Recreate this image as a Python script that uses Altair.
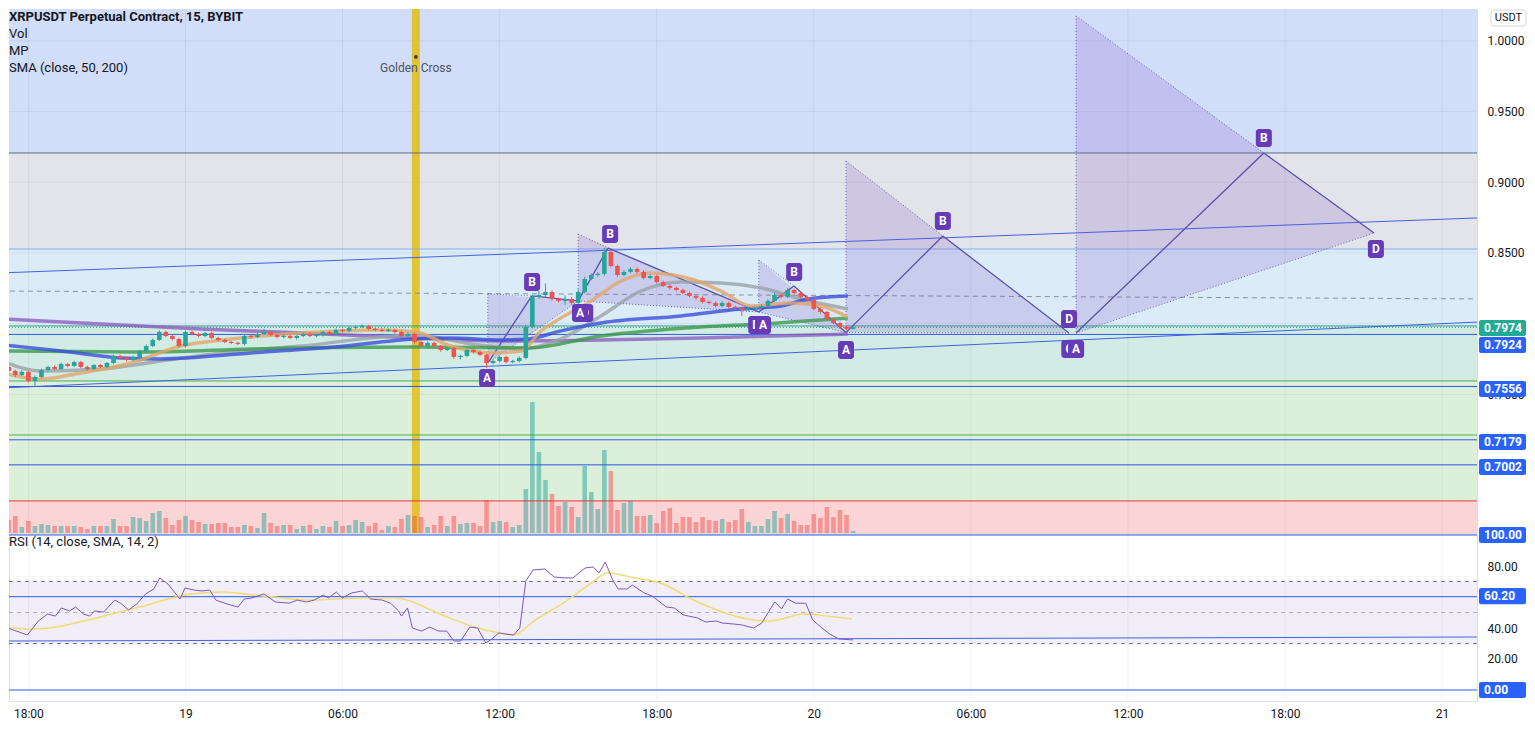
import altair as alt
import pandas as pd

# ---------------- time axis: hours after 18:00 on the 18th ----------------
tick_hours = [0, 6, 12, 18, 24, 30, 36, 42, 48, 54]
tick_labels = ["18:00", "19", "06:00", "12:00", "18:00", "20", "06:00", "12:00", "18:00", "21"]

# ---------------- 15-minute candles ----------------
first_bar_hour = -1.0
bar_hours = 0.25
first_open = 0.7609
closes = [
    0.7694, 0.7666, 0.7637, 0.7659, 0.7595, 0.7623, 0.7673, 0.7694, 0.7680, 0.7715,
    0.7701, 0.7729, 0.7694, 0.7680, 0.7708, 0.7694, 0.7722, 0.7772, 0.7758, 0.7744,
    0.7765, 0.7807, 0.7842, 0.7885, 0.7941, 0.7913, 0.7892, 0.7842, 0.7941, 0.7927,
    0.7913, 0.7934, 0.7899, 0.7885, 0.7871, 0.7864, 0.7857, 0.7913, 0.7906, 0.7927,
    0.7941, 0.7920, 0.7906, 0.7913, 0.7899, 0.7913, 0.7927, 0.7913, 0.7920, 0.7941,
    0.7927, 0.7956, 0.7949, 0.7970, 0.7977, 0.7984, 0.7963, 0.7956, 0.7949, 0.7956,
    0.7941, 0.7913, 0.7927, 0.7871, 0.7842, 0.7864, 0.7842, 0.7814, 0.7828, 0.7765,
    0.7772, 0.7814, 0.7800, 0.7779, 0.7722, 0.7736, 0.7765, 0.7729, 0.7736, 0.7758,
    0.7977, 0.8189, 0.8203, 0.8224, 0.8175, 0.8161, 0.8175, 0.8147, 0.8224, 0.8316,
    0.8344, 0.8352, 0.8507, 0.8408, 0.8344, 0.8366, 0.8387, 0.8366, 0.8323, 0.8337,
    0.8295, 0.8267, 0.8253, 0.8238, 0.8217, 0.8196, 0.8182, 0.8154, 0.8147, 0.8125,
    0.8147, 0.8118, 0.8111, 0.8097, 0.8104, 0.8111, 0.8125, 0.8161, 0.8203, 0.8189,
    0.8238, 0.8217, 0.8189, 0.8168, 0.8104, 0.8083, 0.8033, 0.8005, 0.7977, 0.7963,
    0.7974,
]
# wick lengths above / below the body, in ticks of 0.0001
hi_wick = [
    10, 8, 9, 12, 8, 10, 9, 8, 10, 9,
    8, 9, 7, 9, 8, 9, 8, 10, 9, 8,
    9, 8, 10, 9, 12, 9, 8, 9, 10, 8,
    9, 8, 9, 8, 7, 8, 9, 10, 8, 9,
    22, 8, 9, 8, 9, 8, 9, 10, 8, 9,
    9, 10, 8, 9, 8, 12, 9, 8, 9, 10,
    8, 9, 12, 9, 8, 9, 10, 8, 9, 8,
    9, 8, 10, 9, 8, 10, 9, 8, 9, 10,
    12, 14, 30, 60, 12, 10, 25, 12, 18, 15,
    12, 14, 28, 12, 10, 14, 12, 10, 12, 11,
    10, 9, 10, 9, 10, 9, 10, 11, 9, 10,
    12, 9, 10, 9, 10, 11, 12, 13, 15, 12,
    14, 10, 11, 9, 12, 10, 9, 8, 10, 9,
    5,
]
lo_wick = [
    12, 10, 14, 9, 12, 36, 9, 10, 12, 9,
    10, 8, 9, 12, 9, 10, 8, 9, 10, 12,
    9, 8, 10, 9, 8, 9, 10, 12, 9, 8,
    10, 9, 8, 10, 9, 8, 9, 10, 12, 9,
    8, 9, 10, 9, 8, 12, 9, 8, 9, 10,
    9, 8, 10, 9, 8, 9, 10, 8, 9, 8,
    10, 9, 8, 12, 9, 10, 9, 12, 8, 14,
    18, 9, 10, 9, 35, 10, 9, 12, 9, 10,
    9, 10, 12, 14, 12, 10, 28, 12, 9, 10,
    8, 10, 12, 10, 14, 9, 10, 12, 10, 9,
    10, 9, 12, 10, 9, 10, 12, 11, 10, 9,
    10, 12, 14, 42, 10, 9, 10, 8, 9, 10,
    9, 10, 12, 11, 10, 12, 10, 9, 14, 10,
    4,
]
volume = [
    15, 13, 17, 6, 12, 7, 9, 8, 7, 7,
    7, 7, 6, 4, 7, 7, 7, 14, 7, 7,
    16, 15, 12, 20, 22, 15, 8, 13, 17, 13,
    11, 9, 9, 10, 10, 6, 6, 8, 7, 5,
    20, 10, 7, 8, 8, 4, 7, 8, 4, 7,
    6, 12, 7, 8, 13, 11, 7, 10, 3, 7,
    6, 14, 18, 17, 16, 6, 8, 17, 7, 17,
    9, 10, 10, 7, 33, 11, 12, 11, 6, 8,
    44, 131, 81, 53, 39, 27, 31, 26, 16, 67,
    41, 24, 83, 62, 23, 30, 32, 17, 17, 18,
    10, 22, 25, 10, 16, 16, 11, 16, 13, 12,
    14, 11, 13, 24, 11, 7, 7, 14, 22, 15,
    19, 12, 8, 8, 19, 15, 26, 16, 23, 18,
    2,
]

# ---------------- moving averages (hour, price) ----------------
ma_purple_t = [-1.0, 2.77, 6.59, 10.41, 14.80, 18.05, 21.87, 25.69, 31.3]
ma_purple_p = [0.8033, 0.7998, 0.7963, 0.7934, 0.7899, 0.7878, 0.7885, 0.7899, 0.7927]
ma_gray_t = [-1.0, 0.48, 2.77, 5.06, 7.36, 10.41, 14.80, 16.91, 18.82, 20.34, 21.87, 23.40, 24.93, 26.45, 27.98, 29.51, 31.3]
ma_gray_p = [0.7736, 0.7666, 0.7680, 0.7736, 0.7793, 0.7842, 0.7920, 0.7857, 0.7821, 0.7892, 0.8055, 0.8231, 0.8295, 0.8288, 0.8253, 0.8175, 0.8104]
ma_green_t = [-1.0, 4.68, 8.50, 14.80, 19.08, 21.87, 25.69, 27.98, 31.3]
ma_green_p = [0.7807, 0.7800, 0.7821, 0.7835, 0.7828, 0.7913, 0.7977, 0.7998, 0.8040]
ma_blue_t = [-1.0, 1.25, 3.54, 5.06, 8.50, 11.67, 14.80, 16.14, 18.05, 19.08, 20.34, 21.87, 24.93, 27.21, 28.75, 29.78, 31.3]
ma_blue_p = [0.7850, 0.7807, 0.7758, 0.7751, 0.7793, 0.7835, 0.7892, 0.7899, 0.7885, 0.7892, 0.7949, 0.8005, 0.8055, 0.8104, 0.8125, 0.8175, 0.8196]
ma_orange_t = [-1.0, 0.48, 2.01, 3.92, 5.83, 7.74, 10.41, 13.47, 14.80, 16.14, 17.67, 18.82, 19.58, 20.34, 21.49, 22.64, 23.78, 25.31, 26.45, 27.6, 29.13, 30.27, 31.3]
ma_orange_p = [0.7652, 0.7609, 0.7652, 0.7722, 0.7842, 0.7892, 0.7934, 0.7956, 0.7941, 0.7842, 0.7793, 0.7807, 0.7949, 0.8040, 0.8161, 0.8302, 0.8359, 0.8316, 0.8231, 0.8125, 0.8147, 0.8125, 0.8048]

# ---------------- price levels / zones ----------------
price_ticks = [0.70, 0.75, 0.80, 0.85, 0.90, 0.95, 1.00]
axis_price_labels = [0.75, 0.85, 0.90, 0.95, 1.00]
zone_top = [1.0225, 0.9207, 0.8528, 0.7984, 0.7595, 0.6747]
zone_bottom = [0.9207, 0.8528, 0.7984, 0.7595, 0.6747, 0.6520]
level_dark = [0.9207]
level_light = [0.8528]
level_teal = [0.7984]
level_last = [0.7974]
level_blue = [0.7924, 0.7556, 0.7179, 0.7002]
level_green = [0.7595, 0.7213]
level_red = [0.6747]
line_t = [-1.05, 55.41]
upper_trend = [0.8359, 0.8748]
lower_trend = [0.7545, 0.8012]
mid_dashed = [0.8231, 0.8175]

last_badge_text = ["0.7974"]
last_badge_pos = [0.7970]
level_badge_text = ["0.7924", "0.7556", "0.7179", "0.7002"]
level_badge_pos = [0.7850, 0.7538, 0.7164, 0.6987]

golden_cross_hour = 14.8
golden_text_price = 0.9808
golden_dot_price = 0.9886

# ---------------- drawn patterns ----------------
pat_T_t = [17.55, 21.0, 27.9, 31.23, 40.02]
pat_T_p = [0.8210, 0.8634, 0.8450, 0.9150, 1.0176]
pat_A_p = [0.7722, 0.8161, 0.8083, 0.7937, 0.7934]
pat_B_t = [19.23, 22.14, 29.24, 34.93, 47.19]
pat_B_p = [0.8196, 0.8535, 0.8267, 0.8620, 0.9207]
pat_D_t = [21.0, 27.9, 31.23, 39.75, 51.4]
pat_D_p = [0.8161, 0.8083, 0.7937, 0.7934, 0.8641]
back_label_text = ["D", "D", "C"]
back_label_t = [21.27, 27.8, 39.76]
back_label_p = [0.8076, 0.7991, 0.7821]
label_text = ["A", "B", "A", "B", "A", "B", "A", "B", "D", "A", "B", "D"]
label_t = [17.52, 19.24, 21.07, 22.22, 28.06, 29.25, 31.23, 34.93, 39.75, 40.02, 47.19, 51.47]
label_p = [0.7616, 0.8295, 0.8076, 0.8634, 0.7991, 0.8366, 0.7814, 0.8726, 0.8033, 0.7821, 0.9313, 0.8528]

# ---------------- RSI ----------------
rsi_t = [-1.0, -0.69, -0.04, 0.38, 0.73, 1.03, 1.26, 1.57, 1.80, 2.11, 2.34, 2.53, 2.87, 3.30, 3.52, 3.83, 4.14, 4.48, 4.79, 5.02,
         5.33, 5.79, 5.98, 6.32, 6.63, 6.93, 7.16, 7.59, 8.01, 8.24, 8.54, 9.00, 9.43, 9.96, 10.27, 10.61, 10.92, 11.26, 11.46, 11.76,
         11.99, 12.34, 12.76, 13.07, 13.52, 13.83, 14.14, 14.25, 14.48, 14.67, 15.02, 15.33, 15.67, 15.98, 16.25, 16.51, 16.86, 17.16, 17.47, 17.70,
         17.97, 18.24, 18.54, 18.77, 19.00, 19.27, 19.73, 20.08, 20.50, 20.80, 21.26, 21.57, 21.80, 22.03, 22.34, 22.53, 22.87, 23.07, 23.52, 23.83,
         24.37, 24.67, 25.02, 25.56, 25.86, 26.28, 26.51, 26.93, 27.28, 27.70, 28.01, 28.51, 28.77, 29.00, 29.31, 29.69, 29.96, 30.27, 30.61, 30.96, 31.5]
rsi_v = [40.2, 39.4, 35.5, 44.5, 49.0, 47.7, 52.9, 51.0, 53.5, 49.0, 47.7, 51.0, 50.3, 58.0, 56.0, 51.6, 55.5, 62.0, 65.2, 72.3,
         68.4, 58.7, 65.8, 64.5, 63.9, 64.5, 58.0, 55.5, 53.5, 58.7, 59.4, 62.0, 56.8, 56.0, 58.0, 56.8, 58.0, 61.3, 59.4, 63.2,
         59.4, 62.6, 63.9, 58.7, 58.0, 56.0, 51.0, 47.7, 52.9, 40.0, 38.0, 40.6, 38.0, 38.0, 31.6, 31.6, 40.6, 40.0, 30.3, 32.9,
         36.8, 36.1, 35.5, 40.0, 70.3, 77.4, 78.1, 72.9, 72.3, 72.3, 78.7, 79.4, 75.5, 82.6, 70.3, 65.2, 65.2, 67.7, 62.6, 60.6,
         53.5, 52.9, 48.4, 46.5, 43.9, 44.5, 43.2, 42.6, 41.9, 40.0, 43.2, 56.8, 52.3, 58.7, 56.0, 56.0, 45.2, 40.6, 36.1, 32.9, 32.3]
rsi_ma_t = [-1.0, -0.04, 0.80, 2.11, 3.18, 4.25, 5.33, 6.21, 7.47, 8.58, 9.66, 10.73, 11.80, 12.87, 13.95, 14.60, 15.21, 16.09,
            17.16, 18.01, 18.54, 19.31, 20.38, 21.46, 22.11, 23.18, 24.25, 25.33, 26.40, 27.47, 28.35, 29.62, 30.50, 31.46]
rsi_ma_v = [40.6, 39.4, 40.0, 44.5, 49.0, 53.5, 58.7, 62.0, 63.2, 61.3, 59.4, 58.0, 58.7, 59.4, 59.4, 57.4, 52.9, 46.5,
            40.0, 36.8, 35.5, 44.5, 55.5, 68.4, 75.5, 72.3, 68.4, 58.7, 51.0, 45.8, 44.5, 49.0, 47.7, 45.8]
rsi_dashed = [70, 30]
rsi_mid = [50]
rsi_blue = [100, 60.2, 0]
rsi_trend = [31.6, 34.2]
rsi_axis_labels = [20, 40, 80]
rsi_badge_text = ["100.00", "60.20", "0.00"]
rsi_badge_pos = [100, 60.6, 0]

title_lines = ["XRPUSDT Perpetual Contract, 15, BYBIT", "Vol", "MP", "SMA (close, 50, 200)"]

# ======================= layout =======================
W, H1, H2 = 1468, 524, 167
PXH = 26.18                     # pixels per hour
x_lo = -0.741
x_dom = [x_lo, x_lo + W / PXH]
PPX = 0.000707                  # price per pixel
price_dom = [0.6520, 1.0225]
rsi_dom = [-7.1, 100.65]
FONT = "Roboto"
TXT = "#131722"

xs = alt.Scale(domain=x_dom, nice=False, zero=False)
ys = alt.Scale(domain=price_dom, nice=False, zero=False)
rs = alt.Scale(domain=rsi_dom, nice=False, zero=False)

price_axis = alt.Axis(orient="right", values=axis_price_labels, format=".4f", title=None, domain=False,
                      ticks=False, grid=False, labelPadding=10, labelFontSize=12, labelColor=TXT, labelFont=FONT)
rsi_axis = alt.Axis(orient="right", values=rsi_axis_labels, format=".2f", title=None, domain=False,
                    ticks=False, grid=False, labelPadding=10, labelFontSize=12, labelColor=TXT, labelFont=FONT)
label_expr = "".join(f"datum.value == {h} ? '{lab}' : " for h, lab in zip(tick_hours, tick_labels)) + "''"
time_axis = alt.Axis(values=tick_hours, labelExpr=label_expr, title=None, grid=False, ticks=False, domain=True,
                     domainColor="#e0e3eb", labelPadding=7, labelFontSize=12, labelColor=TXT, labelFont=FONT,
                     labelFlush=False, labelOverlap=False)


def PX(f):
    return alt.X(f + ":Q", scale=xs, axis=None)


def PY(f):
    return alt.Y(f + ":Q", scale=ys, axis=price_axis)


def BY(f):
    return alt.Y(f + ":Q", scale=ys, axis=None)


def RX(f):
    return alt.X(f + ":Q", scale=xs, axis=time_axis)


def RY(f):
    return alt.Y(f + ":Q", scale=rs, axis=rsi_axis)


# ---------- candle table ----------
opens = [first_open] + closes[:-1]
rows = []
for i, c in enumerate(closes):
    o = opens[i]
    lo_b, hi_b = min(o, c), max(o, c)
    if hi_b - lo_b < 0.0008:
        mid = (hi_b + lo_b) / 2
        lo_b, hi_b = mid - 0.0004, mid + 0.0004
    rows.append(dict(t=first_bar_hour + bar_hours * i, bo=lo_b, bc=hi_b,
                     h=max(o, c) + hi_wick[i] / 10000, l=min(o, c) - lo_wick[i] / 10000,
                     vol=volume[i], dir="up" if c >= o else "down"))
candles = pd.DataFrame(rows)
dir_color = alt.Color("dir:N", scale=alt.Scale(domain=["up", "down"], range=["#26a69a", "#ef5350"]), legend=None)
half_body = 2.3 / PXH

# ---------- background group ----------
zone_colors = ["#d1ddf9", "#e3e4e9", "#dcebf8", "#d3ebe5", "#dcefdb", "#fbd5d6"]
bg_layers = []
for top, bot, col in zip(zone_top, zone_bottom, zone_colors):
    bg_layers.append(alt.Chart(pd.DataFrame({"top": [top], "bot": [bot]})).mark_rect(color=col).encode(
        x=alt.value(0), x2=alt.value(W), y=BY("top"), y2="bot:Q"))
vgrid = alt.Chart(pd.DataFrame({"t": tick_hours})).mark_rule(color="#000000", opacity=0.05).encode(x=PX("t"))
hgrid = alt.Chart(pd.DataFrame({"p": price_ticks})).mark_rule(color="#000000", opacity=0.05).encode(y=BY("p"))
gold = alt.Chart(pd.DataFrame({"t": [golden_cross_hour]})).transform_calculate(
    t0="datum.t - 0.15", t1="datum.t + 0.15").mark_rect(color="#e2c229", opacity=0.95).encode(
    x=PX("t0"), x2="t1:Q", y=alt.value(0), y2=alt.value(H1))
bg_group = alt.layer(*bg_layers, vgrid, hgrid, gold)

# ---------- volume ----------
vol_layer = alt.Chart(candles).transform_calculate(
    x0=f"datum.t - {half_body}", x1=f"datum.t + {half_body}").mark_rect(opacity=0.5, clip=True).encode(
    x=PX("x0"), x2="x1:Q", y=alt.Y("vol:Q", scale=alt.Scale(domain=[0, H1], nice=False), axis=None),
    y2=alt.datum(0), color=dir_color)


# ---------- top group ----------
def hlines(vals, color, dash=None, width=1.0, opacity=1.0):
    kw = dict(color=color, strokeWidth=width, opacity=opacity)
    if dash:
        kw["strokeDash"] = dash
    return alt.Chart(pd.DataFrame({"p": vals})).mark_rule(**kw).encode(y=PY("p"))


def seg(p_pair, color, dash=None, width=1.0):
    kw = dict(color=color, strokeWidth=width, clip=True)
    if dash:
        kw["strokeDash"] = dash
    df = pd.DataFrame({"t0": [line_t[0]], "t1": [line_t[1]], "p0": [p_pair[0]], "p1": [p_pair[1]]})
    return alt.Chart(df).mark_rule(**kw).encode(x=PX("t0"), x2="t1:Q", y=PY("p0"), y2="p1:Q")


levels = [
    hlines(level_dark, "#5d6b89"),
    hlines(level_light, "#7fb0ee"),
    seg(mid_dashed, "#8b919c", dash=[5, 4]),
    hlines(level_teal, "#3b9b88"),
    hlines(level_last, "#26a69a", dash=[1, 2]),
    hlines(level_blue, "#2f5ce8"),
    hlines(level_green, "#4caf50"),
    hlines(level_red, "#e53935"),
    seg(upper_trend, "#3f63e6"),
    seg(lower_trend, "#3f63e6"),
]

area_rows, dot_rows, solid_rows = [], [], []
for k in range(len(pat_T_t)):
    tT, pT, pA = pat_T_t[k], pat_T_p[k], pat_A_p[k]
    tB, pB, tD, pD = pat_B_t[k], pat_B_p[k], pat_D_t[k], pat_D_p[k]
    area_rows += [dict(pid=k, t=tT, top=pT, bot=pA), dict(pid=k, t=tD, top=pD, bot=pD)]
    dot_rows += [dict(t0=tT, p0=pT, t1=tT, p1=pA), dict(t0=tT, p0=pT, t1=tB, p1=pB),
                 dict(t0=tT, p0=pA, t1=tD, p1=pD)]
    solid_rows += [dict(t0=tT, p0=pA, t1=tB, p1=pB), dict(t0=tB, p0=pB, t1=tD, p1=pD)]
pat_area = alt.Chart(pd.DataFrame(area_rows)).mark_area(color="#7e57c2", opacity=0.2).encode(
    x=PX("t"), y=PY("top"), y2="bot:Q", detail="pid:N")
pat_dot = alt.Chart(pd.DataFrame(dot_rows)).mark_rule(color="#7266b8", strokeDash=[1, 2], strokeWidth=1).encode(
    x=PX("t0"), x2="t1:Q", y=PY("p0"), y2="p1:Q")
pat_solid = alt.Chart(pd.DataFrame(solid_rows)).mark_rule(color="#5a4fae", strokeWidth=1.3).encode(
    x=PX("t0"), x2="t1:Q", y=PY("p0"), y2="p1:Q")


def ma(ts, ps, color, width=3.5, opacity=0.8):
    return alt.Chart(pd.DataFrame({"t": ts, "p": ps})).mark_line(
        color=color, strokeWidth=width, opacity=opacity, interpolate="monotone", clip=True).encode(
        x=PX("t"), y=PY("p"))


mas = [
    ma(ma_purple_t, ma_purple_p, "#8c5fbf"),
    ma(ma_gray_t, ma_gray_p, "#9aa3a8"),
    ma(ma_green_t, ma_green_p, "#3b9a4c"),
    ma(ma_blue_t, ma_blue_p, "#3a4fdc"),
    ma(ma_orange_t, ma_orange_p, "#e2a66c"),
]

wicks = alt.Chart(candles).mark_rule(strokeWidth=1, clip=True).encode(
    x=PX("t"), y=PY("l"), y2="h:Q", color=dir_color)
bodies = alt.Chart(candles).transform_calculate(
    x0=f"datum.t - {half_body}", x1=f"datum.t + {half_body}").mark_rect(clip=True).encode(
    x=PX("x0"), x2="x1:Q", y=PY("bo"), y2="bc:Q", color=dir_color)


def label_layers(texts, ts, ps):
    df = pd.DataFrame({"txt": texts, "t": ts, "p": ps})
    box = alt.Chart(df).transform_calculate(
        x0=f"datum.t - {8 / PXH}", x1=f"datum.t + {8 / PXH}",
        y0=f"datum.p - {9 * PPX}", y1=f"datum.p + {9 * PPX}").mark_rect(color="#673ab7", cornerRadius=3).encode(
        x=PX("x0"), x2="x1:Q", y=PY("y0"), y2="y1:Q")
    txt = alt.Chart(df).mark_text(color="white", fontSize=12, fontWeight="bold", font=FONT,
                                  baseline="middle", align="center").encode(x=PX("t"), y=PY("p"), text="txt:N")
    return [box, txt]


gc_df = pd.DataFrame({"t": [golden_cross_hour], "p": [golden_text_price], "d": [golden_dot_price], "txt": ["Golden Cross"]})
gc_text = alt.Chart(gc_df).mark_text(color="#50535e", fontSize=12, font=FONT, baseline="middle").encode(
    x=PX("t"), y=PY("p"), text="txt:N")
gc_dot = alt.Chart(gc_df).mark_point(filled=True, color="#3a3a3a", size=14, opacity=1).encode(x=PX("t"), y=PY("d"))


def badges(texts, pos, color, half):
    df = pd.DataFrame({"txt": texts, "pos": pos})
    box = alt.Chart(df).transform_calculate(
        y0=f"datum.pos - {half}", y1=f"datum.pos + {half}").mark_rect(color=color, cornerRadius=2).encode(
        x=alt.value(W + 2), x2=alt.value(W + 49), y=alt.Y("y0:Q"), y2="y1:Q")
    txt = alt.Chart(df).mark_text(color="white", fontSize=12, fontWeight="bold", font=FONT, align="left",
                                  baseline="middle").encode(x=alt.value(W + 7), y=alt.Y("pos:Q"), text="txt:N")
    return box, txt


def price_badges(texts, pos, color):
    box, txt = badges(texts, pos, color, 8 * PPX)
    return [box.encode(y=PY("y0")), txt.encode(y=PY("pos"))]


def rsi_badges(texts, pos, color):
    box, txt = badges(texts, pos, color, 5.2)
    return [box.encode(y=RY("y0")), txt.encode(y=RY("pos"))]


one = pd.DataFrame({"a": [0]})
usdt_box = alt.Chart(one).mark_rect(fill="white", stroke="#d1d4dc", strokeWidth=1, cornerRadius=3).encode(
    x=alt.value(W + 14), x2=alt.value(W + 49), y=alt.value(1), y2=alt.value(17))
usdt_txt = alt.Chart(one).mark_text(text="USDT", fontSize=11, font=FONT, color=TXT, baseline="middle",
                                    align="center").encode(x=alt.value(W + 31.5), y=alt.value(9))

title_layers = []
for k, line in enumerate(title_lines):
    title_layers.append(
        alt.Chart(one).mark_text(text=line, fontSize=13, font=FONT, color=TXT, align="left", baseline="middle",
                                 fontWeight="bold" if k == 0 else "normal").encode(
            x=alt.value(0), y=alt.value(8 + 17 * k)))

top_group = alt.layer(
    *levels, pat_area, pat_dot, pat_solid, *mas, wicks, bodies,
    *label_layers(back_label_text, back_label_t, back_label_p),
    *label_layers(label_text, label_t, label_p),
    gc_text, gc_dot,
    *price_badges(last_badge_text, last_badge_pos, "#22ab94"),
    *price_badges(level_badge_text, level_badge_pos, "#2962ff"),
    usdt_box, usdt_txt, *title_layers)

price_chart = alt.layer(bg_group, vol_layer, top_group).resolve_scale(y="independent").properties(width=W, height=H1)

# ---------- RSI panel ----------
band = alt.Chart(pd.DataFrame({"a": [70], "b": [30]})).mark_rect(color="#7e57c2", opacity=0.1).encode(
    x=alt.value(0), x2=alt.value(W), y=RY("a"), y2="b:Q")
r_vgrid = alt.Chart(pd.DataFrame({"t": tick_hours})).mark_rule(color="#000000", opacity=0.05).encode(x=RX("t"))


def rlines(vals, color, dash=None, opacity=1.0, width=1.0):
    kw = dict(color=color, strokeWidth=width, opacity=opacity)
    if dash:
        kw["strokeDash"] = dash
    return alt.Chart(pd.DataFrame({"v": vals})).mark_rule(**kw).encode(y=RY("v"))


r_trend_df = pd.DataFrame({"t0": [line_t[0]], "t1": [line_t[1]], "v0": [rsi_trend[0]], "v1": [rsi_trend[1]]})
r_trend = alt.Chart(r_trend_df).mark_rule(color="#3f63e6", strokeWidth=1, clip=True).encode(
    x=RX("t0"), x2="t1:Q", y=RY("v0"), y2="v1:Q")
rsi_line = alt.Chart(pd.DataFrame({"t": rsi_t, "v": rsi_v})).mark_line(color="#7e57c2", strokeWidth=1, clip=True).encode(
    x=RX("t"), y=RY("v"))
rsi_ma = alt.Chart(pd.DataFrame({"t": rsi_ma_t, "v": rsi_ma_v})).mark_line(
    color="#f2dc72", strokeWidth=1.5, interpolate="monotone", clip=True).encode(x=RX("t"), y=RY("v"))
rsi_title = alt.Chart(one).mark_text(text="RSI (14, close, SMA, 14, 2)", fontSize=13, font=FONT, color=TXT,
                                     align="left", baseline="middle").encode(x=alt.value(0), y=alt.value(8))

rsi_chart = alt.layer(
    band, r_vgrid,
    rlines(rsi_dashed, "#787b86", dash=[4, 4]),
    rlines(rsi_mid, "#787b86", dash=[4, 4], opacity=0.5),
    rlines(rsi_blue, "#2f5ce8"),
    r_trend, rsi_ma, rsi_line, rsi_title,
    *rsi_badges(rsi_badge_text, rsi_badge_pos, "#2962ff"),
).properties(width=W, height=H2)

chart = alt.vconcat(price_chart, rsi_chart, spacing=1, bounds="flush").properties(padding=0).configure_view(
    strokeWidth=0).configure(font=FONT)

chart.save("out.html", embed_options={"renderer": "svg", "actions": False})
